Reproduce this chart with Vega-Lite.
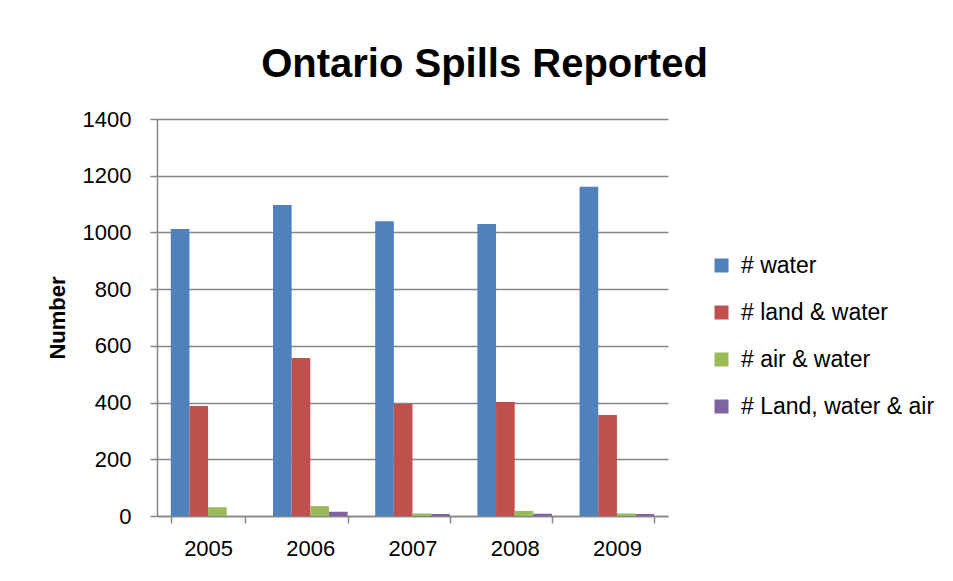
{
  "$schema": "https://vega.github.io/schema/vega-lite/v6.json",
  "width": 511,
  "height": 397,
  "autosize": "none",
  "padding": {"left": 157, "top": 119, "right": 285, "bottom": 65},
  "background": "white",
  "title": {
    "text": "Ontario Spills Reported",
    "anchor": "middle",
    "dx": 72,
    "dy": 57,
    "offset": 40,
    "baseline": "bottom",
    "font": "Liberation Sans",
    "fontSize": 40,
    "fontWeight": "bold",
    "color": "black"
  },
  "data": {
    "values": [
      {"year": "2005", "series": "# water", "value": 1012},
      {"year": "2005", "series": "# land & water", "value": 388},
      {"year": "2005", "series": "# air & water", "value": 31},
      {"year": "2005", "series": "# Land, water & air", "value": 0},
      {"year": "2006", "series": "# water", "value": 1097},
      {"year": "2006", "series": "# land & water", "value": 557},
      {"year": "2006", "series": "# air & water", "value": 35},
      {"year": "2006", "series": "# Land, water & air", "value": 15},
      {"year": "2007", "series": "# water", "value": 1039},
      {"year": "2007", "series": "# land & water", "value": 395},
      {"year": "2007", "series": "# air & water", "value": 9},
      {"year": "2007", "series": "# Land, water & air", "value": 7},
      {"year": "2008", "series": "# water", "value": 1030},
      {"year": "2008", "series": "# land & water", "value": 402},
      {"year": "2008", "series": "# air & water", "value": 18},
      {"year": "2008", "series": "# Land, water & air", "value": 8},
      {"year": "2009", "series": "# water", "value": 1161},
      {"year": "2009", "series": "# land & water", "value": 356},
      {"year": "2009", "series": "# air & water", "value": 9},
      {"year": "2009", "series": "# Land, water & air", "value": 7}
    ]
  },
  "mark": {"type": "bar"},
  "encoding": {
    "x": {
      "field": "year",
      "type": "nominal",
      "scale": {"paddingInner": 0.27, "paddingOuter": 0.135},
      "axis": {
        "title": null,
        "labelAngle": 0,
        "labelFont": "Liberation Sans",
        "labelFontSize": 22,
        "labelColor": "black",
        "labelPadding": 15,
        "domainColor": "#868686",
        "domainWidth": 1.5,
        "tickColor": "#868686",
        "tickWidth": 1.5,
        "tickSize": 7,
        "tickBand": "extent",
        "grid": false
      }
    },
    "xOffset": {
      "field": "series",
      "type": "nominal",
      "sort": ["# water", "# land & water", "# air & water", "# Land, water & air"]
    },
    "y": {
      "field": "value",
      "type": "quantitative",
      "scale": {"domain": [0, 1400], "nice": false},
      "axis": {
        "title": "Number",
        "titleFont": "Liberation Sans",
        "titleFontSize": 22,
        "titleFontWeight": "bold",
        "titleColor": "black",
        "titlePadding": 13,
        "values": [0, 200, 400, 600, 800, 1000, 1200, 1400],
        "format": "d",
        "labelFont": "Liberation Sans",
        "labelFontSize": 22,
        "labelColor": "black",
        "labelPadding": 19,
        "domainColor": "#868686",
        "domainWidth": 1.5,
        "tickColor": "#868686",
        "tickWidth": 1.5,
        "tickSize": 7,
        "grid": true,
        "gridColor": "#868686",
        "gridWidth": 1.5
      }
    },
    "color": {
      "field": "series",
      "type": "nominal",
      "scale": {
        "domain": ["# water", "# land & water", "# air & water", "# Land, water & air"],
        "range": ["#4F81BD", "#C0504D", "#9BBB59", "#8064A2"]
      },
      "legend": {
        "title": null,
        "orient": "none",
        "legendX": 553,
        "legendY": 135,
        "symbolType": "square",
        "symbolSize": 196,
        "symbolStrokeWidth": 0,
        "labelFont": "Liberation Sans",
        "labelFontSize": 23,
        "labelColor": "black",
        "labelOffset": 8,
        "labelLimit": 300,
        "rowPadding": 23
      }
    }
  },
  "config": {
    "view": {"stroke": null}
  }
}
